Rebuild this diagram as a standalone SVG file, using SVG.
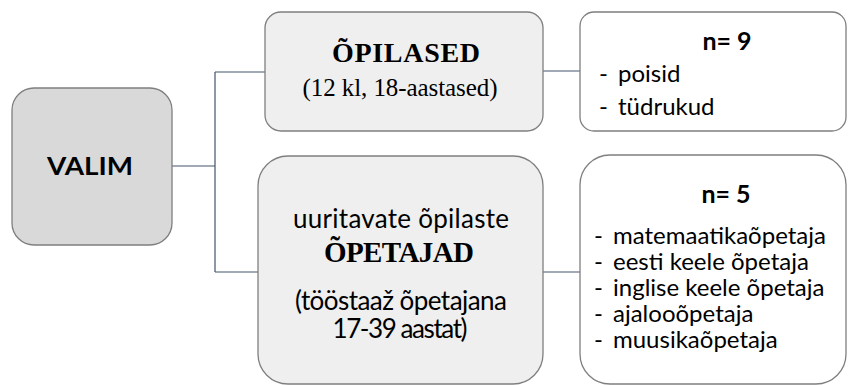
<svg xmlns="http://www.w3.org/2000/svg" width="848" height="385" viewBox="0 0 848 385">
<style>
.box{stroke:#7f7f7f;stroke-width:1.3}
.g1{fill:#d9d9d9}
.g2{fill:#efefef}
.w{fill:#ffffff}
.conn{fill:none;stroke:#44546a;stroke-width:1.2}
.c{font-family:Lato,"Open Sans",sans-serif;fill:#000}
.t{font-family:"Liberation Serif","Times New Roman",serif;fill:#000}
</style>
<rect width="848" height="385" fill="#ffffff"/>
<g id="connectors">
<path class="conn" d="M172,166 H215 M215,72 V272 M215,72 H265 M215,272 H258 M543,71 H580 M543,272 H580"/>
</g>
<g id="valim">
<rect class="box g1" x="12" y="88" width="160" height="157" rx="22"/>
<text class="c" x="90" y="175" font-size="25" font-weight="bold" text-anchor="middle" textLength="86" lengthAdjust="spacingAndGlyphs">VALIM</text>
</g>
<g id="opilased">
<rect class="box g2" x="265" y="12" width="278" height="119" rx="16"/>
<text class="t" x="406" y="62" font-size="28" font-weight="bold" text-anchor="middle" textLength="148">ÕPILASED</text>
<text class="t" x="400" y="96" font-size="25" text-anchor="middle" textLength="195">(12 kl, 18-aastased)</text>
</g>
<g id="opetajad">
<rect class="box g2" x="258" y="156" width="285" height="228" rx="30"/>
<text class="c" x="401" y="228" font-size="26" text-anchor="middle" textLength="216">uuritavate õpilaste</text>
<text class="t" x="399" y="262" font-size="29" font-weight="bold" text-anchor="middle" textLength="150">ÕPETAJAD</text>
<text class="c" x="401" y="310" font-size="26" text-anchor="middle" textLength="212">(tööstaaž õpetajana</text>
<text class="c" x="400" y="338" font-size="26" text-anchor="middle" textLength="135">17-39 aastat)</text>
</g>
<g id="n9">
<rect class="box w" x="580" y="12" width="266" height="119" rx="14"/>
<text class="c" x="727" y="50" font-size="25" font-weight="bold" text-anchor="middle">n= 9</text>
<text class="c" x="599" y="82" font-size="24">-</text>
<text class="c" x="618" y="82" font-size="24">poisid</text>
<text class="c" x="599" y="115" font-size="24">-</text>
<text class="c" x="618" y="115" font-size="24">tüdrukud</text>
</g>
<g id="n5">
<rect class="box w" x="580" y="155" width="266" height="229" rx="30"/>
<text class="c" x="726" y="203" font-size="25" font-weight="bold" text-anchor="middle">n= 5</text>
<text class="c" font-size="24">
<tspan x="594" y="244">-</tspan><tspan x="613" y="244">matemaatikaõpetaja</tspan>
<tspan x="594" y="270">-</tspan><tspan x="613" y="270">eesti keele õpetaja</tspan>
<tspan x="594" y="296">-</tspan><tspan x="613" y="296">inglise keele õpetaja</tspan>
<tspan x="594" y="322">-</tspan><tspan x="613" y="322">ajalooõpetaja</tspan>
<tspan x="594" y="348">-</tspan><tspan x="613" y="348">muusikaõpetaja</tspan>
</text>
</g>
</svg>
